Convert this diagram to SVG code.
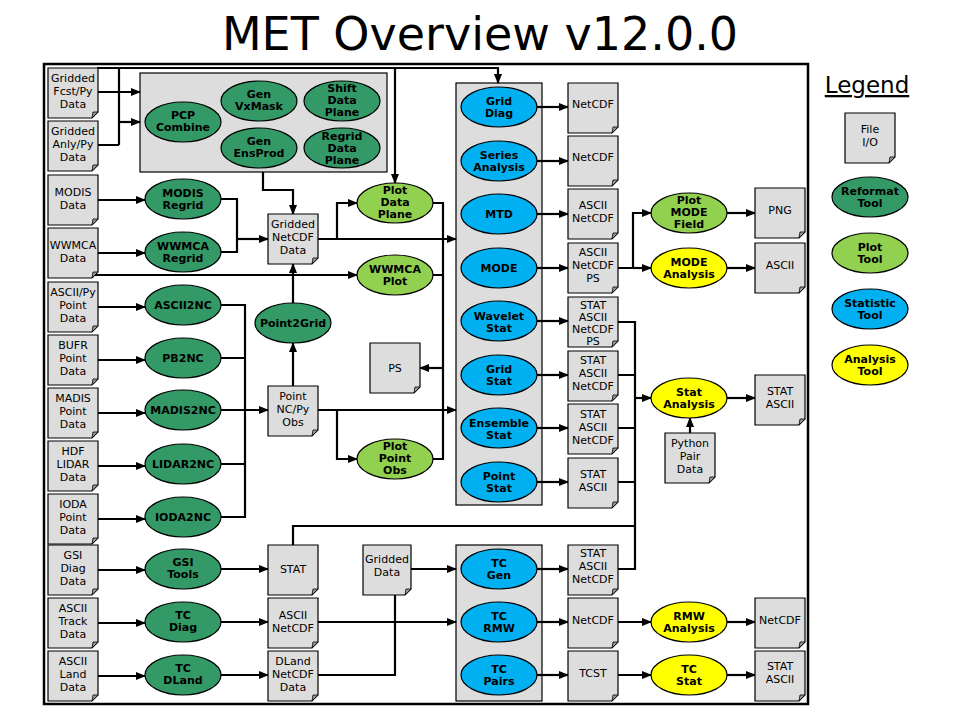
<svg xmlns="http://www.w3.org/2000/svg" width="960" height="720" viewBox="0 0 960 720">
<style>
.fb{fill:#dddddd;stroke:#000;stroke-width:1.2}
.fold{fill:#999;stroke:#000;stroke-width:0.8}
.gb{fill:#dddddd;stroke:#000;stroke-width:1.2}
.rt{fill:#339966;stroke:#000;stroke-width:1.2}
.pt{fill:#92d050;stroke:#000;stroke-width:1.2}
.st{fill:#00b0f0;stroke:#000;stroke-width:1.2}
.at{fill:#ffff00;stroke:#000;stroke-width:1.2}
text{font-family:"DejaVu Sans",Verdana,sans-serif;text-anchor:middle;fill:#000}
.f{font-size:11px}
.t{font-size:11px;font-weight:bold}
.c{fill:none;stroke:#000;stroke-width:2.2}
.a{marker-end:url(#ah)}
</style>
<defs>
<marker id="ah" markerUnits="userSpaceOnUse" markerWidth="10" markerHeight="10" refX="9" refY="5" orient="auto"><path d="M0,1 L10,5 L0,9 z" fill="#000"/></marker>
</defs>
<rect width="960" height="720" fill="#fff"/>
<text x="480" y="50" style="font-size:46px">MET Overview v12.0.0</text>
<rect x="44" y="64" width="764" height="640" fill="none" stroke="#000" stroke-width="2.5"/>

<rect class="gb" x="140" y="73" width="247" height="99"/>
<rect class="gb" x="456" y="83" width="86" height="422"/>
<rect class="gb" x="456" y="545" width="86" height="156"/>

<g id="connectors">
<path class="c a" d="M97,92 H140"/>
<path class="c" d="M97,145 H119 M119,68 V145"/>
<path class="c a" d="M119,122 H140"/>
<path class="c a" d="M97,68 H498 V83"/>
<path class="c a" d="M395,68 V183"/>
<path class="c a" d="M263,172 V190 H293 V214"/>
<path class="c a" d="M97,200 H145"/>
<path class="c a" d="M97,253 H145"/>
<path class="c" d="M221,199 H237 V252 H221"/>
<path class="c a" d="M237,239 H268"/>
<path class="c a" d="M93,275 H357"/>
<path class="c a" d="M318,239 H456"/>
<path class="c a" d="M337,239 V203 H357"/>
<path class="c" d="M433,203 H443 V459 H433 M433,275 H443"/>
<path class="c a" d="M443,368 H420"/>
<path class="c a" d="M293,386 V343"/>
<path class="c a" d="M293,303 V264"/>
<path class="c a" d="M97,307 H145"/>
<path class="c a" d="M97,360 H145"/>
<path class="c a" d="M97,413 H145"/>
<path class="c a" d="M97,466 H145"/>
<path class="c a" d="M97,519 H145"/>
<path class="c" d="M221,305 H245 V517 H221 M221,358 H245 M221,464 H245"/>
<path class="c a" d="M221,410 H268"/>
<path class="c a" d="M318,410 H456"/>
<path class="c a" d="M337,410 V459 H357"/>
<path class="c a" d="M537,107 H568"/>
<path class="c a" d="M537,161 H568"/>
<path class="c a" d="M537,214 H568"/>
<path class="c a" d="M537,268 H568"/>
<path class="c a" d="M537,321 H568"/>
<path class="c a" d="M537,375 H568"/>
<path class="c a" d="M537,428 H568"/>
<path class="c a" d="M537,482 H568"/>
<path class="c a" d="M618,268 H633 V213 H651"/>
<path class="c a" d="M633,268 H651"/>
<path class="c a" d="M727,213 H755"/>
<path class="c a" d="M727,268 H755"/>
<path class="c" d="M618,322 H635 V569 H618 M618,375 H635 M618,428 H635 M618,482 H635 M293,545 V526 H635"/>
<path class="c a" d="M635,398 H651"/>
<path class="c a" d="M690,433 V418"/>
<path class="c a" d="M727,398 H755"/>
<path class="c a" d="M97,570 H145"/>
<path class="c a" d="M97,623 H145"/>
<path class="c a" d="M97,676 H145"/>
<path class="c a" d="M221,569 H268"/>
<path class="c a" d="M221,622 H268"/>
<path class="c a" d="M221,675 H268"/>
<path class="c a" d="M410,569 H456"/>
<path class="c a" d="M318,622 H456"/>
<path class="c" d="M318,675 H395 V595"/>
<path class="c a" d="M537,569 H568"/>
<path class="c a" d="M537,622 H568"/>
<path class="c a" d="M537,675 H568"/>
<path class="c a" d="M618,622 H651"/>
<path class="c a" d="M727,622 H755"/>
<path class="c a" d="M618,675 H651"/>
<path class="c a" d="M727,675 H755"/>
</g>

<g id="in-fcst"><path class="fb" d="M48,68 h50 v44 l-6,6 h-44 z"/><path class="fold" d="M92,118 l6,-6 h-5 z"/><text class="f"><tspan x="73" y="82">Gridded</tspan><tspan x="73" y="95">Fcst/Py</tspan><tspan x="73" y="108">Data</tspan></text></g>
<g id="in-anly"><path class="fb" d="M48,121 h50 v44 l-6,6 h-44 z"/><path class="fold" d="M92,171 l6,-6 h-5 z"/><text class="f"><tspan x="73" y="135">Gridded</tspan><tspan x="73" y="148">Anly/Py</tspan><tspan x="73" y="161">Data</tspan></text></g>
<g id="in-modis"><path class="fb" d="M48,175 h50 v44 l-6,6 h-44 z"/><path class="fold" d="M92,225 l6,-6 h-5 z"/><text class="f"><tspan x="73" y="196">MODIS</tspan><tspan x="73" y="209">Data</tspan></text></g>
<g id="in-wwmca"><path class="fb" d="M48,228 h50 v44 l-6,6 h-44 z"/><path class="fold" d="M92,278 l6,-6 h-5 z"/><text class="f"><tspan x="73" y="249">WWMCA</tspan><tspan x="73" y="262">Data</tspan></text></g>
<g id="in-ascii"><path class="fb" d="M48,282 h50 v44 l-6,6 h-44 z"/><path class="fold" d="M92,332 l6,-6 h-5 z"/><text class="f"><tspan x="73" y="296">ASCII/Py</tspan><tspan x="73" y="309">Point</tspan><tspan x="73" y="322">Data</tspan></text></g>
<g id="in-bufr"><path class="fb" d="M48,335 h50 v44 l-6,6 h-44 z"/><path class="fold" d="M92,385 l6,-6 h-5 z"/><text class="f"><tspan x="73" y="349">BUFR</tspan><tspan x="73" y="362">Point</tspan><tspan x="73" y="375">Data</tspan></text></g>
<g id="in-madis"><path class="fb" d="M48,388 h50 v44 l-6,6 h-44 z"/><path class="fold" d="M92,438 l6,-6 h-5 z"/><text class="f"><tspan x="73" y="402">MADIS</tspan><tspan x="73" y="415">Point</tspan><tspan x="73" y="428">Data</tspan></text></g>
<g id="in-hdf"><path class="fb" d="M48,441 h50 v44 l-6,6 h-44 z"/><path class="fold" d="M92,491 l6,-6 h-5 z"/><text class="f"><tspan x="73" y="455">HDF</tspan><tspan x="73" y="468">LIDAR</tspan><tspan x="73" y="481">Data</tspan></text></g>
<g id="in-ioda"><path class="fb" d="M48,494 h50 v44 l-6,6 h-44 z"/><path class="fold" d="M92,544 l6,-6 h-5 z"/><text class="f"><tspan x="73" y="508">IODA</tspan><tspan x="73" y="521">Point</tspan><tspan x="73" y="534">Data</tspan></text></g>
<g id="in-gsi"><path class="fb" d="M48,545 h50 v44 l-6,6 h-44 z"/><path class="fold" d="M92,595 l6,-6 h-5 z"/><text class="f"><tspan x="73" y="559">GSI</tspan><tspan x="73" y="572">Diag</tspan><tspan x="73" y="585">Data</tspan></text></g>
<g id="in-track"><path class="fb" d="M48,598 h50 v44 l-6,6 h-44 z"/><path class="fold" d="M92,648 l6,-6 h-5 z"/><text class="f"><tspan x="73" y="612">ASCII</tspan><tspan x="73" y="625">Track</tspan><tspan x="73" y="638">Data</tspan></text></g>
<g id="in-land"><path class="fb" d="M48,651 h50 v44 l-6,6 h-44 z"/><path class="fold" d="M92,701 l6,-6 h-5 z"/><text class="f"><tspan x="73" y="665">ASCII</tspan><tspan x="73" y="678">Land</tspan><tspan x="73" y="691">Data</tspan></text></g>

<g id="pcp"><ellipse class="rt" cx="183" cy="122" rx="38" ry="20"/><text class="t"><tspan x="183" y="119">PCP</tspan><tspan x="183" y="131">Combine</tspan></text></g>
<g id="vxmask"><ellipse class="rt" cx="259" cy="101" rx="38" ry="20"/><text class="t"><tspan x="259" y="98">Gen</tspan><tspan x="259" y="110">VxMask</tspan></text></g>
<g id="shift"><ellipse class="rt" cx="342" cy="101" rx="38" ry="20"/><text class="t"><tspan x="342" y="92">Shift</tspan><tspan x="342" y="104">Data</tspan><tspan x="342" y="116">Plane</tspan></text></g>
<g id="ensprod"><ellipse class="rt" cx="259" cy="148" rx="38" ry="20"/><text class="t"><tspan x="259" y="145">Gen</tspan><tspan x="259" y="157">EnsProd</tspan></text></g>
<g id="regridp"><ellipse class="rt" cx="342" cy="148" rx="38" ry="20"/><text class="t"><tspan x="342" y="140">Regrid</tspan><tspan x="342" y="152">Data</tspan><tspan x="342" y="164">Plane</tspan></text></g>
<g id="modisr"><ellipse class="rt" cx="183" cy="199" rx="38" ry="20"/><text class="t"><tspan x="183" y="197">MODIS</tspan><tspan x="183" y="209">Regrid</tspan></text></g>
<g id="wwmcar"><ellipse class="rt" cx="183" cy="252" rx="38" ry="20"/><text class="t"><tspan x="183" y="250">WWMCA</tspan><tspan x="183" y="262">Regrid</tspan></text></g>
<g id="ascii2nc"><ellipse class="rt" cx="183" cy="305" rx="38" ry="20"/><text class="t" x="183" y="309">ASCII2NC</text></g>
<g id="pb2nc"><ellipse class="rt" cx="183" cy="358" rx="38" ry="20"/><text class="t" x="183" y="362">PB2NC</text></g>
<g id="madis2nc"><ellipse class="rt" cx="183" cy="410" rx="38" ry="20"/><text class="t" x="183" y="414">MADIS2NC</text></g>
<g id="lidar2nc"><ellipse class="rt" cx="183" cy="464" rx="38" ry="20"/><text class="t" x="183" y="468">LIDAR2NC</text></g>
<g id="ioda2nc"><ellipse class="rt" cx="183" cy="517" rx="38" ry="20"/><text class="t" x="183" y="521">IODA2NC</text></g>
<g id="gsitools"><ellipse class="rt" cx="183" cy="569" rx="38" ry="20"/><text class="t"><tspan x="183" y="566">GSI</tspan><tspan x="183" y="578">Tools</tspan></text></g>
<g id="tcdiag"><ellipse class="rt" cx="183" cy="622" rx="38" ry="20"/><text class="t"><tspan x="183" y="619">TC</tspan><tspan x="183" y="631">Diag</tspan></text></g>
<g id="tcdland"><ellipse class="rt" cx="183" cy="675" rx="38" ry="20"/><text class="t"><tspan x="183" y="672">TC</tspan><tspan x="183" y="684">DLand</tspan></text></g>
<g id="point2grid"><ellipse class="rt" cx="293" cy="323" rx="38" ry="20"/><text class="t" x="293" y="327">Point2Grid</text></g>

<g id="gnc"><path class="fb" d="M268,214 h50 v44 l-6,6 h-44 z"/><path class="fold" d="M312,264 l6,-6 h-5 z"/><text class="f"><tspan x="293" y="228">Gridded</tspan><tspan x="293" y="241">NetCDF</tspan><tspan x="293" y="254">Data</tspan></text></g>
<g id="ps"><path class="fb" d="M370,343 h50 v44 l-6,6 h-44 z"/><path class="fold" d="M414,393 l6,-6 h-5 z"/><text class="f" x="395" y="372">PS</text></g>
<g id="pointobs"><path class="fb" d="M268,386 h50 v44 l-6,6 h-44 z"/><path class="fold" d="M312,436 l6,-6 h-5 z"/><text class="f"><tspan x="293" y="400">Point</tspan><tspan x="293" y="413">NC/Py</tspan><tspan x="293" y="426">Obs</tspan></text></g>
<g id="statf"><path class="fb" d="M268,545 h50 v44 l-6,6 h-44 z"/><path class="fold" d="M312,595 l6,-6 h-5 z"/><text class="f" x="293" y="573">STAT</text></g>
<g id="ascnc"><path class="fb" d="M268,598 h50 v44 l-6,6 h-44 z"/><path class="fold" d="M312,648 l6,-6 h-5 z"/><text class="f"><tspan x="293" y="619">ASCII</tspan><tspan x="293" y="632">NetCDF</tspan></text></g>
<g id="dland"><path class="fb" d="M268,651 h50 v44 l-6,6 h-44 z"/><path class="fold" d="M312,701 l6,-6 h-5 z"/><text class="f"><tspan x="293" y="665">DLand</tspan><tspan x="293" y="678">NetCDF</tspan><tspan x="293" y="691">Data</tspan></text></g>
<g id="gdata"><path class="fb" d="M363,545 h48 v44 l-6,6 h-42 z"/><path class="fold" d="M405,595 l6,-6 h-5 z"/><text class="f"><tspan x="387" y="563">Gridded</tspan><tspan x="387" y="576">Data</tspan></text></g>

<g id="pdp"><ellipse class="pt" cx="395" cy="203" rx="38" ry="20"/><text class="t"><tspan x="395" y="194">Plot</tspan><tspan x="395" y="206">Data</tspan><tspan x="395" y="218">Plane</tspan></text></g>
<g id="wwmcap"><ellipse class="pt" cx="395" cy="275" rx="38" ry="20"/><text class="t"><tspan x="395" y="273">WWMCA</tspan><tspan x="395" y="285">Plot</tspan></text></g>
<g id="ppo"><ellipse class="pt" cx="395" cy="459" rx="38" ry="20"/><text class="t"><tspan x="395" y="450">Plot</tspan><tspan x="395" y="462">Point</tspan><tspan x="395" y="474">Obs</tspan></text></g>

<g id="griddiag"><ellipse class="st" cx="499" cy="107" rx="38" ry="20"/><text class="t"><tspan x="499" y="105">Grid</tspan><tspan x="499" y="117">Diag</tspan></text></g>
<g id="series"><ellipse class="st" cx="499" cy="161" rx="38" ry="20"/><text class="t"><tspan x="499" y="159">Series</tspan><tspan x="499" y="171">Analysis</tspan></text></g>
<g id="mtd"><ellipse class="st" cx="499" cy="214" rx="38" ry="20"/><text class="t" x="499" y="218">MTD</text></g>
<g id="mode"><ellipse class="st" cx="499" cy="268" rx="38" ry="20"/><text class="t" x="499" y="272">MODE</text></g>
<g id="wavelet"><ellipse class="st" cx="499" cy="321" rx="38" ry="20"/><text class="t"><tspan x="499" y="320">Wavelet</tspan><tspan x="499" y="332">Stat</tspan></text></g>
<g id="gridstat"><ellipse class="st" cx="499" cy="375" rx="38" ry="20"/><text class="t"><tspan x="499" y="373">Grid</tspan><tspan x="499" y="385">Stat</tspan></text></g>
<g id="ensstat"><ellipse class="st" cx="499" cy="428" rx="38" ry="20"/><text class="t"><tspan x="499" y="427">Ensemble</tspan><tspan x="499" y="439">Stat</tspan></text></g>
<g id="pointstat"><ellipse class="st" cx="499" cy="482" rx="38" ry="20"/><text class="t"><tspan x="499" y="480">Point</tspan><tspan x="499" y="492">Stat</tspan></text></g>
<g id="tcgen"><ellipse class="st" cx="499" cy="569" rx="38" ry="20"/><text class="t"><tspan x="499" y="567">TC</tspan><tspan x="499" y="579">Gen</tspan></text></g>
<g id="tcrmw"><ellipse class="st" cx="499" cy="622" rx="38" ry="20"/><text class="t"><tspan x="499" y="620">TC</tspan><tspan x="499" y="632">RMW</tspan></text></g>
<g id="tcpairs"><ellipse class="st" cx="499" cy="675" rx="38" ry="20"/><text class="t"><tspan x="499" y="673">TC</tspan><tspan x="499" y="685">Pairs</tspan></text></g>

<g id="o1"><path class="fb" d="M568,83 h50 v44 l-6,6 h-44 z"/><path class="fold" d="M612,133 l6,-6 h-5 z"/><text class="f" x="593" y="108">NetCDF</text></g>
<g id="o2"><path class="fb" d="M568,136 h50 v44 l-6,6 h-44 z"/><path class="fold" d="M612,186 l6,-6 h-5 z"/><text class="f" x="593" y="161">NetCDF</text></g>
<g id="o3"><path class="fb" d="M568,189 h50 v44 l-6,6 h-44 z"/><path class="fold" d="M612,239 l6,-6 h-5 z"/><text class="f"><tspan x="593" y="209">ASCII</tspan><tspan x="593" y="222">NetCDF</tspan></text></g>
<g id="o4"><path class="fb" d="M568,243 h50 v44 l-6,6 h-44 z"/><path class="fold" d="M612,293 l6,-6 h-5 z"/><text class="f"><tspan x="593" y="256">ASCII</tspan><tspan x="593" y="269">NetCDF</tspan><tspan x="593" y="282">PS</tspan></text></g>
<g id="o5"><path class="fb" d="M568,297 h50 v44 l-6,6 h-44 z"/><path class="fold" d="M612,347 l6,-6 h-5 z"/><text class="f"><tspan x="593" y="309">STAT</tspan><tspan x="593" y="321">ASCII</tspan><tspan x="593" y="333">NetCDF</tspan><tspan x="593" y="345">PS</tspan></text></g>
<g id="o6"><path class="fb" d="M568,351 h50 v44 l-6,6 h-44 z"/><path class="fold" d="M612,401 l6,-6 h-5 z"/><text class="f"><tspan x="593" y="364">STAT</tspan><tspan x="593" y="377">ASCII</tspan><tspan x="593" y="390">NetCDF</tspan></text></g>
<g id="o7"><path class="fb" d="M568,404 h50 v44 l-6,6 h-44 z"/><path class="fold" d="M612,454 l6,-6 h-5 z"/><text class="f"><tspan x="593" y="418">STAT</tspan><tspan x="593" y="431">ASCII</tspan><tspan x="593" y="444">NetCDF</tspan></text></g>
<g id="o8"><path class="fb" d="M568,458 h50 v44 l-6,6 h-44 z"/><path class="fold" d="M612,508 l6,-6 h-5 z"/><text class="f"><tspan x="593" y="478">STAT</tspan><tspan x="593" y="491">ASCII</tspan></text></g>
<g id="o9"><path class="fb" d="M568,545 h50 v44 l-6,6 h-44 z"/><path class="fold" d="M612,595 l6,-6 h-5 z"/><text class="f"><tspan x="593" y="557">STAT</tspan><tspan x="593" y="570">ASCII</tspan><tspan x="593" y="583">NetCDF</tspan></text></g>
<g id="o10"><path class="fb" d="M568,598 h50 v44 l-6,6 h-44 z"/><path class="fold" d="M612,648 l6,-6 h-5 z"/><text class="f" x="593" y="624">NetCDF</text></g>
<g id="o11"><path class="fb" d="M568,651 h50 v44 l-6,6 h-44 z"/><path class="fold" d="M612,701 l6,-6 h-5 z"/><text class="f" x="593" y="677">TCST</text></g>

<g id="pmf"><ellipse class="pt" cx="689" cy="213" rx="38" ry="20"/><text class="t"><tspan x="689" y="204">Plot</tspan><tspan x="689" y="216">MODE</tspan><tspan x="689" y="228">Field</tspan></text></g>
<g id="modea"><ellipse class="at" cx="689" cy="268" rx="38" ry="20"/><text class="t"><tspan x="689" y="266">MODE</tspan><tspan x="689" y="278">Analysis</tspan></text></g>
<g id="stata"><ellipse class="at" cx="689" cy="398" rx="38" ry="20"/><text class="t"><tspan x="689" y="396">Stat</tspan><tspan x="689" y="408">Analysis</tspan></text></g>
<g id="rmwa"><ellipse class="at" cx="689" cy="622" rx="38" ry="20"/><text class="t"><tspan x="689" y="620">RMW</tspan><tspan x="689" y="632">Analysis</tspan></text></g>
<g id="tcstat"><ellipse class="at" cx="689" cy="675" rx="38" ry="20"/><text class="t"><tspan x="689" y="673">TC</tspan><tspan x="689" y="685">Stat</tspan></text></g>
<g id="pypair"><path class="fb" d="M665,433 h50 v44 l-6,6 h-44 z"/><path class="fold" d="M709,483 l6,-6 h-5 z"/><text class="f"><tspan x="690" y="447">Python</tspan><tspan x="690" y="460">Pair</tspan><tspan x="690" y="473">Data</tspan></text></g>
<g id="png"><path class="fb" d="M755,188 h50 v44 l-6,6 h-44 z"/><path class="fold" d="M799,238 l6,-6 h-5 z"/><text class="f" x="780" y="214">PNG</text></g>
<g id="asc"><path class="fb" d="M755,243 h50 v44 l-6,6 h-44 z"/><path class="fold" d="M799,293 l6,-6 h-5 z"/><text class="f" x="780" y="269">ASCII</text></g>
<g id="sa1"><path class="fb" d="M755,375 h50 v44 l-6,6 h-44 z"/><path class="fold" d="M799,425 l6,-6 h-5 z"/><text class="f"><tspan x="780" y="395">STAT</tspan><tspan x="780" y="408">ASCII</tspan></text></g>
<g id="nc2"><path class="fb" d="M755,598 h50 v44 l-6,6 h-44 z"/><path class="fold" d="M799,648 l6,-6 h-5 z"/><text class="f" x="780" y="624">NetCDF</text></g>
<g id="sa2"><path class="fb" d="M755,651 h50 v44 l-6,6 h-44 z"/><path class="fold" d="M799,701 l6,-6 h-5 z"/><text class="f"><tspan x="780" y="670">STAT</tspan><tspan x="780" y="683">ASCII</tspan></text></g>

<g id="legend">
<text x="867" y="93" style="font-size:23px;text-decoration:underline">Legend</text>
<path class="fb" d="M845,113 h50 v44 l-6,6 h-44 z"/><path class="fold" d="M889,163 l6,-6 h-5 z"/><text class="f"><tspan x="870" y="133">File</tspan><tspan x="870" y="146">I/O</tspan></text>
<ellipse class="rt" cx="870" cy="197" rx="38" ry="20"/><text class="t"><tspan x="870" y="195">Reformat</tspan><tspan x="870" y="207">Tool</tspan></text>
<ellipse class="pt" cx="870" cy="253" rx="38" ry="20"/><text class="t"><tspan x="870" y="251">Plot</tspan><tspan x="870" y="263">Tool</tspan></text>
<ellipse class="st" cx="870" cy="309" rx="38" ry="20"/><text class="t"><tspan x="870" y="307">Statistic</tspan><tspan x="870" y="319">Tool</tspan></text>
<ellipse class="at" cx="870" cy="365" rx="38" ry="20"/><text class="t"><tspan x="870" y="363">Analysis</tspan><tspan x="870" y="375">Tool</tspan></text>
</g>
</svg>
